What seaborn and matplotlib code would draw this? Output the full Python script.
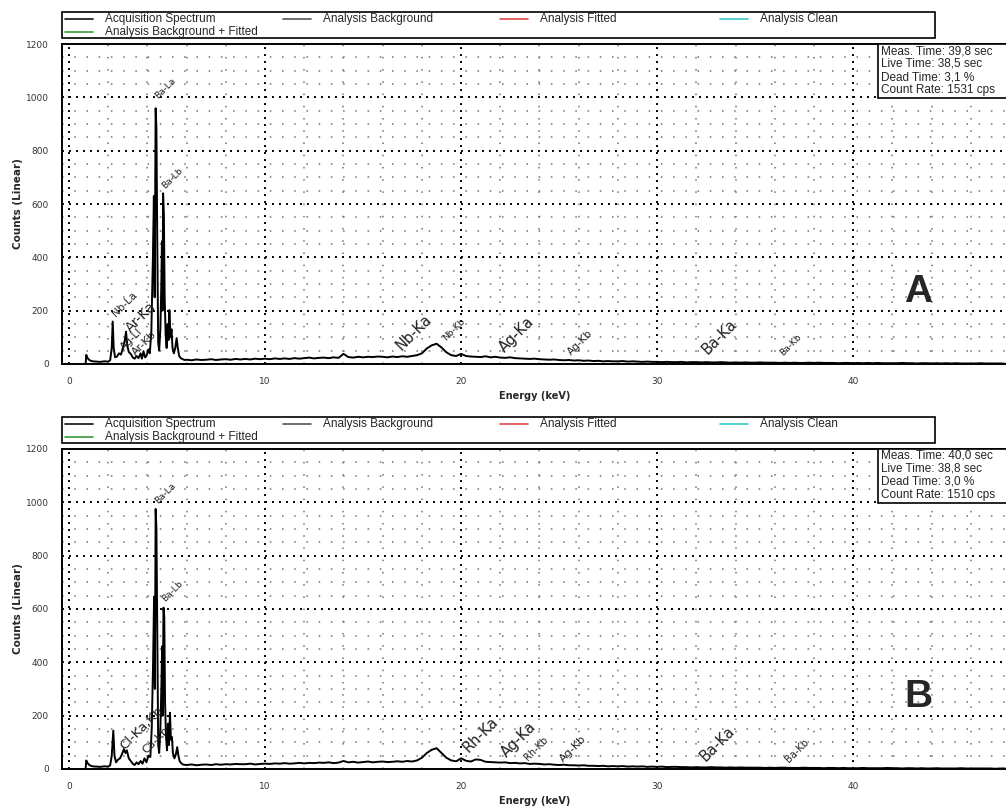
import numpy as np
import pandas as pd
import matplotlib
matplotlib.use("Agg")
import matplotlib.pyplot as plt
from matplotlib.lines import Line2D
from matplotlib.patches import Rectangle
from matplotlib.ticker import MultipleLocator
import seaborn as sns

# ---- spectrum A : low-energy peak region (keV, counts) ----
peak_energy_a = [0.85, 0.88, 0.95, 1.05, 1.2, 1.4, 1.6, 1.8, 2.0, 2.1, 2.18, 2.23, 2.28, 2.35,
                 2.45, 2.55, 2.65, 2.75, 2.85, 2.91, 2.97, 3.05, 3.15, 3.25, 3.35, 3.45, 3.55,
                 3.65, 3.72, 3.8, 3.88, 3.95, 4.05, 4.12, 4.2, 4.28, 4.33, 4.37, 4.42, 4.46,
                 4.5, 4.55, 4.6, 4.66, 4.71, 4.74, 4.77, 4.8, 4.84, 4.88, 4.93, 4.98, 5.03,
                 5.08, 5.12, 5.18, 5.23, 5.28, 5.35, 5.42, 5.49, 5.55, 5.62, 5.7, 5.8, 5.9]
peak_counts_a = [2, 34, 22, 14, 10, 9, 8, 10, 9, 14, 60, 159, 60, 25,
                 28, 40, 35, 60, 90, 121, 70, 45, 38, 25, 20, 30, 22,
                 40, 20, 48, 25, 30, 55, 40, 120, 400, 630, 250, 959, 880,
                 480, 80, 50, 130, 300, 460, 200, 640, 560, 250, 110, 60, 150,
                 90, 202, 100, 130, 60, 40, 60, 97, 60, 30, 22, 18, 15]
# ---- spectrum A : 6 keV onwards, one value every 0.25 keV ----
bg_counts_a = [16, 14, 17, 15, 16, 18, 15, 17, 18, 16, 19, 17, 19, 17, 20, 18,
               20, 18, 21, 19, 21, 19, 22, 20, 22, 24, 21, 23, 24, 22, 25, 23,
               38, 26, 24, 27, 25, 27, 26, 28, 27, 25, 28, 26, 29, 27, 30, 33,
               40, 58, 70, 76, 62, 44, 33, 30, 38, 30, 28, 27, 26, 29, 25, 27,
               24, 23, 25, 22, 21, 20, 19, 20, 18, 17, 16, 17, 15, 14, 15, 13,
               14, 12, 13, 11, 12, 10, 11, 10, 10, 11, 9, 10, 9, 8, 9, 8,
               8, 7, 8, 7, 7, 8, 6, 7, 7, 6, 7, 6, 6, 7, 6, 5,
               6, 5, 6, 5, 5, 6, 5, 5, 5, 4, 5, 4, 5, 4, 4, 5,
               4, 5, 4, 4, 4, 3, 4, 4, 3, 4, 3, 4, 3, 4, 3, 3,
               3, 3, 4, 3, 3, 2, 3, 3, 2, 3, 2, 3, 2, 3, 2, 2,
               2, 2, 3, 2, 2, 2, 2, 1]

# ---- spectrum B ----
peak_energy_b = [0.85, 0.88, 0.95, 1.05, 1.2, 1.4, 1.6, 1.8, 2.0, 2.1, 2.18, 2.26, 2.32, 2.4,
                 2.5, 2.6, 2.7, 2.8, 2.88, 2.95, 3.05, 3.15, 3.25, 3.35, 3.45, 3.55, 3.65,
                 3.75, 3.85, 3.95, 4.05, 4.15, 4.22, 4.29, 4.34, 4.38, 4.42, 4.46, 4.5, 4.55,
                 4.6, 4.66, 4.71, 4.75, 4.78, 4.82, 4.86, 4.9, 4.95, 5.0, 5.05, 5.1, 5.15,
                 5.2, 5.25, 5.3, 5.38, 5.45, 5.52, 5.58, 5.65, 5.75, 5.85]
peak_counts_b = [2, 32, 22, 14, 10, 9, 8, 10, 9, 14, 50, 144, 50, 25,
                 35, 40, 55, 75, 60, 70, 40, 30, 20, 15, 25, 18, 30,
                 20, 40, 25, 50, 45, 150, 400, 646, 300, 975, 900, 520, 90,
                 60, 150, 300, 460, 200, 605, 570, 250, 120, 70, 170, 90, 211,
                 110, 120, 60, 40, 55, 82, 50, 28, 20, 16]
bg_counts_b = [15, 17, 14, 16, 17, 15, 18, 16, 18, 17, 19, 18, 18, 20, 17, 19,
               20, 19, 21, 20, 22, 20, 21, 23, 21, 23, 22, 24, 23, 25, 22, 24,
               30, 25, 27, 24, 26, 28, 25, 27, 28, 26, 27, 29, 27, 30, 28, 32,
               42, 60, 72, 78, 60, 42, 32, 29, 40, 31, 28, 36, 34, 27, 26, 25,
               24, 25, 22, 23, 21, 22, 19, 20, 19, 17, 18, 16, 15, 16, 14, 14,
               13, 14, 12, 12, 11, 12, 10, 11, 10, 11, 9, 10, 9, 10, 8, 9,
               8, 9, 7, 8, 8, 7, 7, 6, 7, 6, 6, 7, 6, 6, 5, 6,
               5, 6, 5, 5, 5, 5, 4, 5, 4, 5, 5, 4, 4, 4, 5, 4,
               4, 4, 3, 4, 4, 3, 4, 3, 3, 3, 4, 3, 3, 3, 3, 4,
               3, 3, 2, 3, 3, 2, 3, 2, 2, 3, 2, 2, 2, 2, 3, 2,
               2, 2, 2, 2, 2, 1, 2, 2]
bg_start = 6.0   # keV of first channel in the bg lists
bg_step = 0.25   # keV per listed channel

# peak labels: text, energy, counts, font size
labels_a = [("Ba-La", 4.64, 990, 6.5), ("Ba-Lb", 5.0, 652, 6.5), ("Nb-La", 2.45, 172, 7.5),
            ("Ar-Ka", 3.27, 109, 10), ("Ag-Ll", 2.9, 45, 7.5), ("Ar-Kb", 3.5, 26, 8),
            ("Nb-Ka", 17.1, 41, 10.5), ("Nb-Kb", 19.3, 82, 6.5), ("Ag-Ka", 22.35, 34, 10.5),
            ("Ag-Kb", 25.7, 26, 7.5), ("Ba-Ka", 32.7, 26, 10.5), ("Ba-Kb", 36.5, 26, 6.5)]
labels_b = [("Ba-La", 4.64, 990, 6.5), ("Ba-Lb", 5.0, 622, 6.5), ("Cl-Ka,Kb", 2.96, 64, 9.5),
            ("Ca-Kb", 4.03, 52, 8), ("Rh-Ka", 20.5, 52, 10.5), ("Ag-Ka", 22.45, 34, 10.5),
            ("Rh-Kb", 23.5, 26, 7), ("Ag-Kb", 25.3, 19, 8), ("Ba-Ka", 32.6, 19, 10.5),
            ("Ba-Kb", 36.8, 19, 7)]

stats_a = ["Meas. Time: 39,8 sec", "Live Time: 38,5 sec", "Dead Time: 3,1 %", "Count Rate: 1531 cps"]
stats_b = ["Meas. Time: 40,0 sec", "Live Time: 38,8 sec", "Dead Time: 3,0 %", "Count Rate: 1510 cps"]

legend_names = ["Acquisition Spectrum", "Analysis Background", "Analysis Fitted",
                "Analysis Clean", "Analysis Background + Fitted"]
legend_colors = ["#111111", "#555555", "#e04848", "#3cc8c8", "#3a9a3a"]

sns.set_style("white")
plt.rcParams['font.family'] = ['DejaVu Sans']

W, H = 1006, 808
fig = plt.figure(figsize=(W / 100, H / 100), dpi=100)


def fx(px):
    return px / W


def fy(py):
    return 1 - py / H


def draw_legend(top):
    fig.add_artist(Rectangle((fx(62), fy(top + 26)), fx(935 - 62), 26 / H, transform=fig.transFigure,
                             fill=False, ec="black", lw=1.2))
    slots = [(65, 0), (283, 0), (500, 0), (720, 0), (65, 1)]
    for (x0, row), name, col in zip(slots, legend_names, legend_colors):
        yy = fy(top + 7 + row * 13)
        fig.add_artist(Line2D([fx(x0), fx(x0 + 28)], [yy, yy], transform=fig.transFigure, color=col, lw=1.2))
        fig.text(fx(x0 + 40), yy, name, fontsize=8.5, family="Liberation Sans", va="center", ha="left")


def draw_panel(top, peak_e, peak_c, bg_c, labels, stats, letter):
    bottom = top + 320
    ax = fig.add_axes([fx(62), fy(bottom), fx(1010 - 62), 320 / H])
    energy = list(peak_e) + list(bg_start + bg_step * np.arange(len(bg_c)))
    counts = list(peak_c) + list(bg_c)
    df = pd.DataFrame({"energy": energy, "counts": counts})
    sns.lineplot(data=df, x="energy", y="counts", ax=ax, color="black", lw=1.4,
                 sort=False, estimator=None, zorder=3)
    ax.set_xlim(-0.357, 48.0)
    ax.set_ylim(0, 1200)
    ax.xaxis.set_major_locator(MultipleLocator(10))
    ax.xaxis.set_minor_locator(MultipleLocator(2))
    ax.yaxis.set_major_locator(MultipleLocator(200))
    ax.yaxis.set_minor_locator(MultipleLocator(50))
    ax.grid(which="major", color="black", ls=(0, (1, 2.6)), lw=1.4)
    ax.grid(which="minor", color="#707070", ls=(0, (1, 7)), lw=1.1)
    ax.set_axisbelow(True)
    for side in ["left", "bottom", "top"]:
        ax.spines[side].set_color("black")
        ax.spines[side].set_linewidth(1.4)
    ax.spines["right"].set_visible(False)
    ax.tick_params(which="major", direction="inout", length=9, width=1.2, pad=5,
                   labelsize=6.5, labelcolor="#333333", color="black")
    ax.tick_params(which="minor", direction="inout", length=6, width=1.0, color="black")
    ax.set_xlabel("Energy (keV)", fontsize=7, fontweight="bold")
    ax.set_ylabel("Counts (Linear)", fontsize=7.5, fontweight="bold")
    ax.xaxis.set_label_coords(0.499, -0.083)
    ax.yaxis.set_label_coords(-0.041, 0.5)
    for txt, e, c, fs in labels:
        ax.text(e, c, txt, rotation=45, rotation_mode="anchor", ha="left", va="bottom",
                fontsize=fs, color="#222222", zorder=4)
    box_x = (878 - 62) / (1010 - 62)
    ax.add_patch(Rectangle((box_x, 1 - 54 / 320), 1.0, 54 / 320, transform=ax.transAxes,
                           fc="white", ec="black", lw=1.2, zorder=5, clip_on=False))
    for i, line in enumerate(stats):
        ax.text(box_x + 3 / 948, 1 - (7 + 13 * i) / 320, line, transform=ax.transAxes,
                fontsize=8.5, family="Liberation Sans", va="center", ha="left", zorder=6)
    fig.text(fx(918), fy(top + 248), letter, fontsize=28, fontweight="bold",
             family="Liberation Sans", ha="center", va="center")
    return ax


draw_legend(12)
draw_panel(44, peak_energy_a, peak_counts_a, bg_counts_a, labels_a, stats_a, "A")
draw_legend(417)
draw_panel(449, peak_energy_b, peak_counts_b, bg_counts_b, labels_b, stats_b, "B")

fig.savefig("out.png", dpi=100)
